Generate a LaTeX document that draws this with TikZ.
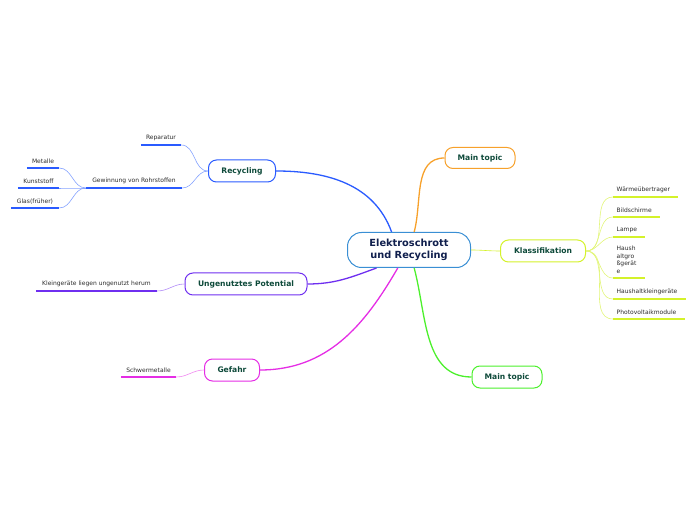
\documentclass[tikz,border=0pt]{standalone}
\usepackage{fontspec}
\setmainfont{DejaVu Sans}
\definecolor{cBlau}{HTML}{2A5BFF}
\definecolor{cBlauHell}{HTML}{86A3FF}
\definecolor{cViolett}{HTML}{6F2FF0}
\definecolor{cViolettHell}{HTML}{B08AF7}
\definecolor{cMagenta}{HTML}{E52DE5}
\definecolor{cMagentaHell}{HTML}{F08AF0}
\definecolor{cOrange}{HTML}{F7A12B}
\definecolor{cGelb}{HTML}{D4F22A}
\definecolor{cGelbHell}{HTML}{E2F57A}
\definecolor{cGruen}{HTML}{4CF02C}
\definecolor{zentralrand}{HTML}{3A8FD4}
\definecolor{zentraltext}{HTML}{101F4D}
\definecolor{thematext}{HTML}{0E4A3A}
\definecolor{blatttext}{HTML}{2B2B2B}
\newcommand\blattfont{\fontsize{6}{7.8}\selectfont\hyphenpenalty=10000\relax}
\begin{document}
\begin{tikzpicture}[
    x=1pt, y=1pt,
    zentral/.style={draw=zentralrand,line width=1pt,rounded corners=14pt,fill=white,minimum width=123pt,minimum height=35pt,align=center,font=\fontsize{9.8}{12}\selectfont\bfseries,text=zentraltext},
    haupt/.style={draw=#1,line width=1pt,rounded corners=8pt,fill=white,minimum height=22pt,font=\fontsize{7.6}{9}\selectfont\bfseries,text=thematext},
    blatt/.style={font=\blattfont,text=blatttext,inner xsep=0pt,inner ysep=4pt,anchor=south,
        append after command={(\tikzlastnode.south west) edge[draw=#1,line width=1.6pt] (\tikzlastnode.south east)}},
    rblatt/.style={blatt=#1,anchor=south west,align=left,inner xsep=3.5pt},
    ast/.style={draw=#1,line width=1.3pt},
    zweig/.style={draw=#1,line width=0.6pt}
]
\useasboundingbox (0,0) rectangle (696,520);

% Zentrum und Hauptthemen
\node[zentral] (zen) at (409,270) {Elektroschrott\\und Recycling};
\node[haupt=cBlau,minimum width=67pt] (recyc) at (242,349) {Recycling};
\node[haupt=cViolett,minimum width=122pt] (ungen) at (246,236) {Ungenutztes Potential};
\node[haupt=cMagenta,minimum width=55pt] (gefahr) at (232,150) {Gefahr};
\node[haupt=cOrange,minimum width=70pt,minimum height=21pt] (haupt1) at (480,362) {Main topic};
\node[haupt=cGelb,minimum width=85pt] (klass) at (543,269) {Klassifikation};
\node[haupt=cGruen,minimum width=70pt] (haupt2) at (507,143) {Main topic};

% Unterpunkte links
\node[blatt=cBlau,minimum width=40pt] (rep) at (161,375) {Reparatur};
\node[blatt=cBlau,minimum width=96pt] (gew) at (134,332) {Gewinnung von Rohrstoffen};
\node[blatt=cBlau,minimum width=32pt] (met) at (43,352) {Metalle};
\node[blatt=cBlau,minimum width=41pt] (kun) at (38.5,332) {Kunststoff};
\node[blatt=cBlau,minimum width=48pt] (glas) at (35,312) {Glas(früher)};
\node[blatt=cViolett,minimum width=121pt] (klein) at (96.5,229) {Kleingeräte liegen ungenutzt herum};
\node[blatt=cMagenta,minimum width=55pt] (schwer) at (148.5,143) {Schwermetalle};

% Unterpunkte rechts
\node[rblatt=cGelb,text width=58pt] (waerme) at (613,323) {Wärmeübertrager};
\node[rblatt=cGelb,text width=40pt] (bild) at (613,303) {Bildschirme};
\node[rblatt=cGelb,text width=25pt] (lampe) at (613,283) {Lampe};
\node[rblatt=cGelb,text width=25pt] (gross) at (613,242) {Haush\\altgro\\ßgerät\\e};
\node[rblatt=cGelb,text width=66pt] (klgeraet) at (613,221) {Haushaltkleingeräte};
\node[rblatt=cGelb,text width=65pt] (photo) at (613,201) {Photovoltaikmodule};

% Aeste
\draw[ast=cBlau] (zen.134) to[out=110,in=0] (recyc.east);
\draw[ast=cOrange] (zen.74) to[out=75,in=180] (haupt1.west);
\draw[ast=cGelb,line width=0.6pt] (zen.east) to[out=0,in=180] (klass.west);
\draw[ast=cViolett] (zen.209) to[out=200,in=0] (ungen.east);
\draw[ast=cMagenta] (zen.238) to[out=240,in=0] (gefahr.east);
\draw[ast=cGruen] (zen.286) to[out=285,in=180] (haupt2.west);

\draw[zweig=cBlauHell] (recyc.west) to[out=180,in=0] (rep.south east);
\draw[zweig=cBlauHell] (recyc.west) to[out=180,in=0] (gew.south east);
\foreach \z in {met,kun,glas}
    \draw[zweig=cBlauHell] (gew.south west) to[out=180,in=0] (\z.south east);
\draw[zweig=cViolettHell] (ungen.west) to[out=180,in=0] (klein.south east);
\draw[zweig=cMagentaHell] (gefahr.west) to[out=180,in=0] (schwer.south east);
\foreach \z in {waerme,bild,lampe,gross,klgeraet,photo}
    \draw[zweig=cGelbHell] (klass.east) to[out=0,in=180] (\z.south west);
\end{tikzpicture}
\end{document}
